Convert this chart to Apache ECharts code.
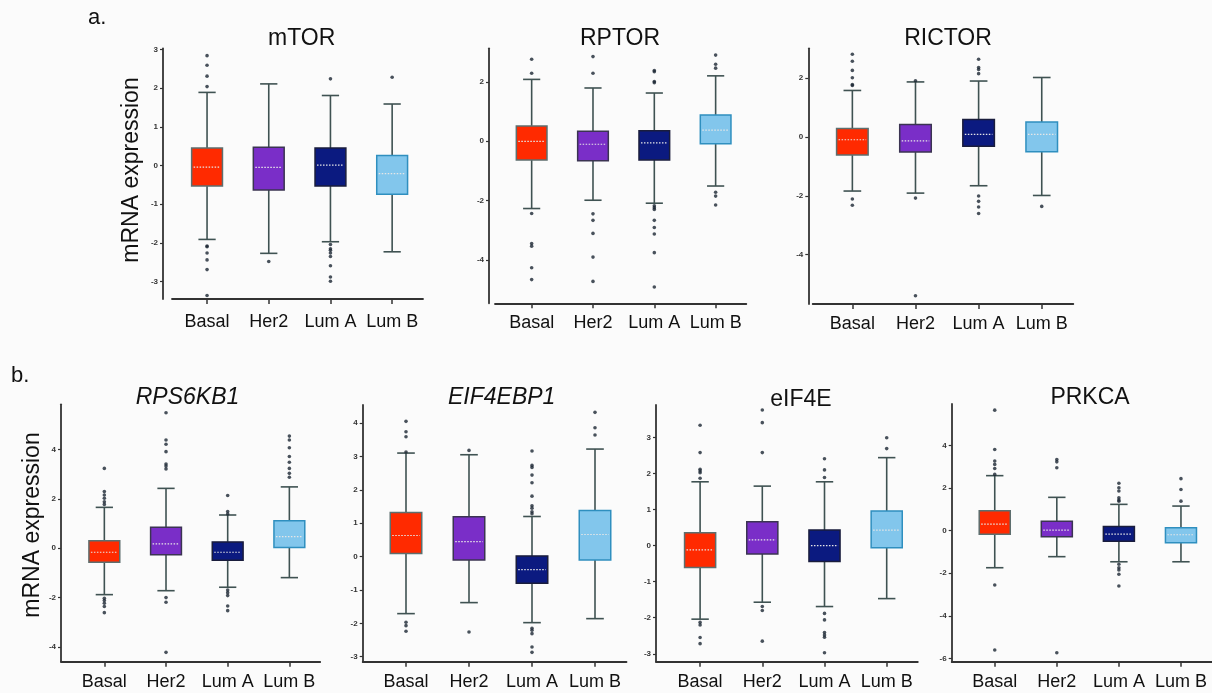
<!DOCTYPE html>
<html><head><meta charset="utf-8">
<script src="https://cdn.jsdelivr.net/npm/echarts@6/dist/echarts.min.js"></script>
<style>html,body{margin:0;padding:0;background:#fbfbfb}#c{width:1212px;height:693px}</style>
</head><body><div id="c"></div>
<script>
// ---------- DATA ----------
const categories = ['Basal', 'Her2', 'Lum A', 'Lum B'];

// box stats per category: [lower whisker, Q1, median, Q3, upper whisker]
const mTOR_box = [[-1.91, -0.53, -0.04, 0.45, 1.89], [-2.27, -0.63, -0.05, 0.47, 2.11], [-1.97, -0.53, 0.01, 0.45, 1.81], [-2.23, -0.74, -0.21, 0.26, 1.59]];
const mTOR_out = [[2.84, 2.59, 2.31, 2.04, -2.08, -2.10, -2.26, -2.44, -2.69, -3.36], [-2.48], [2.24, -2.04, -2.15, -2.19, -2.26, -2.35, -2.59, -2.88, -2.99], [2.28]];
const mTOR_ticks = [-3, -2, -1, 0, 1, 2, 3];

const RPTOR_box = [[-2.27, -0.63, 0.00, 0.52, 2.09], [-1.99, -0.66, -0.10, 0.34, 1.80], [-2.09, -0.63, -0.05, 0.36, 1.63], [-1.51, -0.08, 0.38, 0.89, 2.21]];
const RPTOR_out = [[2.77, 2.30, -2.44, -3.45, -3.54, -4.27, -4.67], [2.86, 2.30, -2.45, -2.67, -3.11, -3.91, -4.73], [2.39, 2.35, 2.02, 1.98, -2.18, -2.24, -2.30, -2.67, -2.91, -3.13, -3.76, -4.92], [2.91, 2.60, 2.47, -1.72, -1.85, -2.15]];
const RPTOR_ticks = [-4, -2, 0, 2];

const RICTOR_box = [[-1.84, -0.62, -0.10, 0.28, 1.57], [-1.91, -0.52, -0.14, 0.42, 1.86], [-1.66, -0.32, 0.08, 0.59, 1.89], [-1.99, -0.51, 0.08, 0.50, 2.01]];
const RICTOR_out = [[2.80, 2.56, 2.25, 2.00, 1.77, 1.74, -2.11, -2.32], [1.90, -2.08, -5.39], [2.63, 2.35, 2.28, 2.14, -2.01, -2.19, -2.38, -2.60], [-2.36]];
const RICTOR_ticks = [-4, -2, 0, 2];

const RPS6KB1_box = [[-1.88, -0.57, -0.16, 0.31, 1.66], [-1.72, -0.26, 0.18, 0.85, 2.43], [-1.58, -0.49, -0.16, 0.26, 1.35], [-1.19, 0.03, 0.47, 1.12, 2.49]];
const RPS6KB1_out = [[3.24, 2.30, 2.16, 2.03, 1.89, 1.78, -2.03, -2.12, -2.23, -2.36, -2.61], [5.50, 4.39, 4.22, 3.92, 3.42, 3.34, 3.22, -2.00, -2.19, -4.22], [2.14, 1.49, 1.39, -1.69, -1.80, -1.92, -2.34, -2.53], [4.55, 4.39, 4.08, 3.72, 3.49, 3.24, 3.04, 2.88]];
const RPS6KB1_ticks = [-4, -2, 0, 2, 4];

const EIF4EBP1_box = [[-1.71, 0.09, 0.63, 1.32, 3.10], [-1.38, -0.10, 0.45, 1.19, 3.05], [-1.98, -0.80, -0.39, 0.02, 1.20], [-1.86, -0.10, 0.66, 1.38, 3.22]];
const EIF4EBP1_out = [[4.05, 3.74, 3.59, 3.13, -1.97, -2.07, -2.24], [3.18, -2.26], [3.16, 2.73, 2.67, 2.44, 2.21, 1.81, 1.52, 1.45, 1.34, 1.28, -2.15, -2.21, -2.31, -2.71, -2.87], [4.32, 3.86, 3.64]];
const EIF4EBP1_ticks = [-3, -2, -1, 0, 1, 2, 3, 4];

const eIF4E_box = [[-2.04, -0.61, -0.12, 0.36, 1.77], [-1.57, -0.23, 0.16, 0.66, 1.65], [-1.69, -0.44, 0.00, 0.43, 1.77], [-1.47, -0.06, 0.43, 0.96, 2.44]];
const eIF4E_out = [[3.34, 2.58, 2.12, 2.07, 2.02, 1.87, -2.13, -2.20, -2.55, -2.72], [3.76, 3.41, 2.58, -1.69, -1.80, -2.65], [2.41, 2.10, 1.89, -1.88, -2.06, -2.41, -2.48, -2.54, -2.97], [2.99, 2.69]];
const eIF4E_ticks = [-3, -2, -1, 0, 1, 2, 3];

const PRKCA_box = [[-1.74, -0.16, 0.31, 0.94, 2.59], [-1.22, -0.28, 0.03, 0.45, 1.57], [-1.46, -0.50, -0.16, 0.20, 1.24], [-1.46, -0.56, -0.19, 0.14, 1.16]];
const PRKCA_out = [[5.67, 3.82, 3.28, 3.12, 2.93, 2.65, -2.55, -5.61], [3.35, 3.24, 2.96, -5.74], [2.23, 2.02, 1.87, 1.55, 1.44, 1.39, -1.58, -1.74, -1.85, -2.05, -2.60], [2.45, 1.94, 1.39]];
const PRKCA_ticks = [-6, -4, -2, 0, 2, 4];

// ---------- LAYOUT / STYLE ----------
const FONT = '"Liberation Sans", Arial, sans-serif';
const fills = ['#ff2a00', '#7a2ec8', '#0b1a80', '#82c6ec'];
const borders = ['#5d6e6e', '#3b3452', '#1a1d3c', '#2f8fbf'];
const whisker = '#3f5252';

const panels = [
  {title: 'mTOR', italic: false, box: mTOR_box, out: mTOR_out, ticks: mTOR_ticks, min: -3.45, max: 3.03, yAxisX: 163, xLineL: 172, bandL: 176.2, bandR: 423, top: 48.3, bottom: 299, tx: 301.7, ty: 39, lm: 14},
  {title: 'RPTOR', italic: false, box: RPTOR_box, out: RPTOR_out, ticks: RPTOR_ticks, min: -5.47, max: 3.14, yAxisX: 489, xLineL: 495, bandL: 501, bandR: 746.3, top: 48.3, bottom: 303.3, tx: 620, ty: 39, lm: 11},
  {title: 'RICTOR', italic: false, box: RICTOR_box, out: RICTOR_out, ticks: RICTOR_ticks, min: -5.67, max: 3.0, yAxisX: 808.3, xLineL: 812.7, bandL: 820.8, bandR: 1073.3, top: 48.3, bottom: 304, tx: 948, ty: 39, lm: 11},
  {title: 'RPS6KB1', italic: true, box: RPS6KB1_box, out: RPS6KB1_out, ticks: RPS6KB1_ticks, min: -4.6, max: 5.84, yAxisX: 61, xLineL: 61, bandL: 73.5, bandR: 320.2, top: 404.3, bottom: 661.7, tx: 187.5, ty: 398, lm: 11},
  {title: 'EIF4EBP1', italic: true, box: EIF4EBP1_box, out: EIF4EBP1_out, ticks: EIF4EBP1_ticks, min: -3.15, max: 4.54, yAxisX: 362.7, xLineL: 362.7, bandL: 374.5, bandR: 626.5, top: 405, bottom: 661.7, tx: 501.7, ty: 398, lm: 11},
  {title: 'eIF4E', italic: false, box: eIF4E_box, out: eIF4E_out, ticks: eIF4E_ticks, min: -3.22, max: 3.9, yAxisX: 656, xLineL: 656, bandL: 669, bandR: 917.8, top: 405, bottom: 661.7, tx: 801, ty: 400, lm: 11},
  {title: 'PRKCA', italic: false, box: PRKCA_box, out: PRKCA_out, ticks: PRKCA_ticks, min: -6.16, max: 5.96, yAxisX: 951.7, xLineL: 951.7, bandL: 963.7, bandR: 1212, top: 404, bottom: 661.7, tx: 1090, ty: 398, lm: 11}
];

function renderBox(params, api) {
  const i = api.value(0);
  const lo = api.coord([i, api.value(1)]);
  const q1 = api.coord([i, api.value(2)]);
  const md = api.coord([i, api.value(3)]);
  const q3 = api.coord([i, api.value(4)]);
  const hi = api.coord([i, api.value(5)]);
  const band = api.size([1, 0])[0];
  const x = md[0], bw = band * 0.5, cw = band * 0.28;
  const wl = {stroke: whisker, lineWidth: 1.6};
  return {type: 'group', children: [
    {type: 'line', shape: {x1: x, y1: lo[1], x2: x, y2: q1[1]}, style: wl},
    {type: 'line', shape: {x1: x, y1: q3[1], x2: x, y2: hi[1]}, style: wl},
    {type: 'line', shape: {x1: x - cw / 2, y1: lo[1], x2: x + cw / 2, y2: lo[1]}, style: wl},
    {type: 'line', shape: {x1: x - cw / 2, y1: hi[1], x2: x + cw / 2, y2: hi[1]}, style: wl},
    {type: 'rect', shape: {x: x - bw / 2, y: q3[1], width: bw, height: q1[1] - q3[1]}, style: {fill: fills[i], stroke: borders[i], lineWidth: 1.5}},
    {type: 'line', shape: {x1: x - bw / 2 + 2, y1: md[1], x2: x + bw / 2 - 2, y2: md[1]}, style: {stroke: '#e6e6e6', lineWidth: 1.2, lineDash: [1.5, 1.5]}}
  ]};
}

const grid = [], xAxis = [], yAxis = [], series = [], graphic = [];
panels.forEach((p, k) => {
  const gi = 2 * k, fi = 2 * k + 1;
  grid.push({left: p.bandL, top: p.top, width: p.bandR - p.bandL, height: p.bottom - p.top, outerBoundsMode: 'none', containLabel: false});
  grid.push({left: p.xLineL, top: p.top, width: p.bandR - p.xLineL, height: p.bottom - p.top, outerBoundsMode: 'none', containLabel: false});
  xAxis.push({gridIndex: gi, type: 'category', data: categories, boundaryGap: true,
    axisLine: {show: false, onZero: false},
    axisTick: {show: true, alignWithLabel: true, length: 5, lineStyle: {color: '#333', width: 1.5}},
    axisLabel: {fontSize: 18, color: '#111', margin: p.lm, fontFamily: FONT, interval: 0},
    splitLine: {show: false}});
  xAxis.push({gridIndex: fi, type: 'value', min: 0, max: 1,
    axisLine: {show: true, onZero: false, lineStyle: {color: '#333', width: 1.8}},
    axisTick: {show: false}, axisLabel: {show: false}, splitLine: {show: false}});
  yAxis.push({gridIndex: gi, type: 'value', min: p.min, max: p.max, offset: p.bandL - p.yAxisX,
    axisLine: {show: true, onZero: false, lineStyle: {color: '#333', width: 1.8}},
    axisTick: {show: true, length: 3, customValues: p.ticks, lineStyle: {color: '#333', width: 1.2}},
    axisLabel: {customValues: p.ticks, fontSize: 8, fontWeight: 'bold', color: '#333', margin: 5, fontFamily: FONT},
    splitLine: {show: false}});
  yAxis.push({gridIndex: fi, type: 'value', show: false, min: 0, max: 1});
  series.push({type: 'custom', xAxisIndex: gi, yAxisIndex: gi, renderItem: renderBox, silent: true, z: 2,
    encode: {x: 0, y: [1, 2, 3, 4, 5]},
    data: p.box.map((b, i) => [i].concat(b))});
  const pts = [];
  p.out.forEach((arr, i) => arr.forEach(v => pts.push([i, v])));
  series.push({type: 'scatter', xAxisIndex: gi, yAxisIndex: gi, data: pts, symbolSize: 3.6, silent: true, z: 3,
    itemStyle: {color: '#1b2733'}});
  graphic.push({type: 'text', x: p.tx, y: p.ty, silent: true,
    style: {text: p.title, font: (p.italic ? 'italic ' : '') + '23px ' + FONT, fill: '#111', align: 'center', verticalAlign: 'middle', textAlign: 'center', textVerticalAlign: 'middle'}});
});

graphic.push({type: 'text', x: 88, y: 18, style: {text: 'a.', font: '22px ' + FONT, fill: '#111', align: 'left', verticalAlign: 'middle'}});
graphic.push({type: 'text', x: 11, y: 376, style: {text: 'b.', font: '22px ' + FONT, fill: '#111', align: 'left', verticalAlign: 'middle'}});
graphic.push({type: 'text', x: 131.7, y: 170, rotation: Math.PI / 2, style: {text: 'mRNA expression', font: '23px ' + FONT, fill: '#111', align: 'center', verticalAlign: 'middle'}});
graphic.push({type: 'text', x: 33, y: 525, rotation: Math.PI / 2, style: {text: 'mRNA expression', font: '23px ' + FONT, fill: '#111', align: 'center', verticalAlign: 'middle'}});

const chart = echarts.init(document.getElementById('c'), null, {renderer: 'canvas'});
chart.setOption({
  backgroundColor: '#fbfbfb',
  animation: false,
  grid, xAxis, yAxis, series, graphic
});
</script>
</body></html>
